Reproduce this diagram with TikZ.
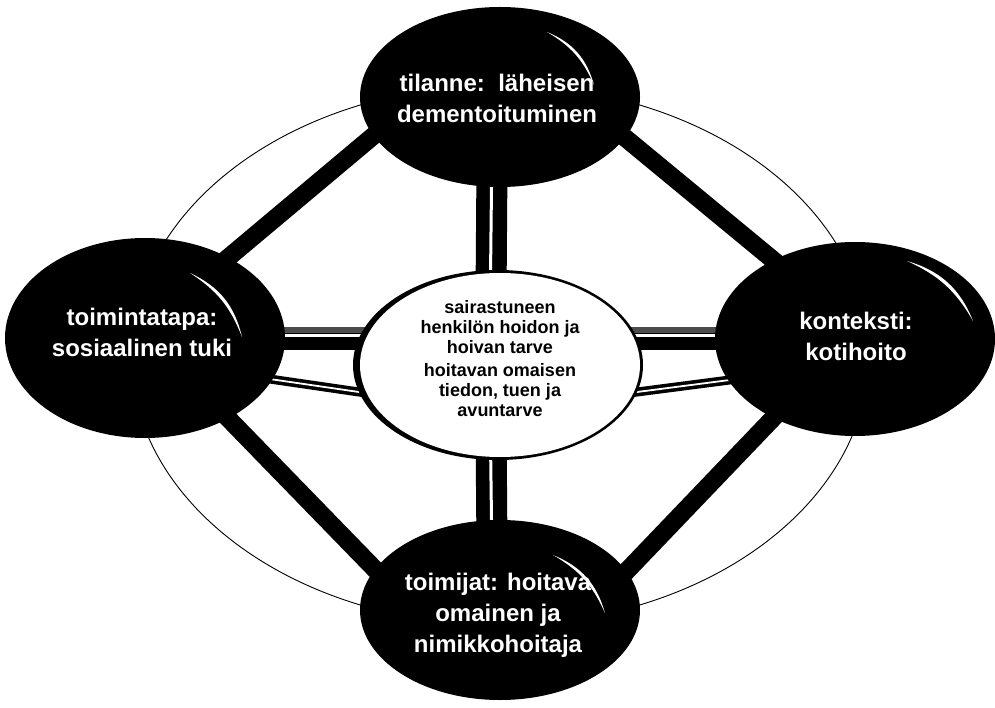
\documentclass[tikz,border=0pt]{standalone}
\usepackage{fontspec}
\setmainfont{Liberation Sans}
\usetikzlibrary{shapes.geometric}
\pgfdeclarelayer{paper}
\pgfdeclarelayer{back}
\pgfsetlayers{paper,back,main}

\tikzset{
  blob/.style={ellipse, fill=black, inner sep=0pt, outer sep=0pt,
    minimum width=280pt, minimum height=180pt},
  hub/.style={ellipse, fill=black, inner sep=0pt, outer sep=0pt,
    minimum width=290pt, minimum height=190pt},
  hubface/.style={ellipse, fill=white, inner sep=0pt, outer sep=0pt,
    minimum width=280pt, minimum height=184pt},
  ring/.style={ellipse, draw=black, line width=0.9pt, inner sep=0pt,
    minimum width=738pt, minimum height=540pt},
  wtxt/.style={text=white, font=\bfseries\fontsize{24}{31}\selectfont,
    align=center, inner sep=0pt},
  ctxt/.style={text=black, font=\bfseries\fontsize{18}{20}\selectfont,
    align=center, inner sep=0pt},
  spoke/.style={line width=18pt, black, shorten <=-25pt, shorten >=-25pt},
  vbar/.style={line width=31pt, black},
  hbar/.style={line width=23pt, black},
  slit/.style={line width=3pt, white},
  twin/.style={draw=black, line width=3.6pt, double=white,
    double distance=1.8pt, shorten <=-8pt, shorten >=-4pt},
}

% white highlight crescent on a dark ellipse
\newcommand\glint[5]{%
  \fill[white] ([shift={(#2,#3)}]#1.center)
    to[bend left=26] ([shift={(#4,#5)}]#1.center)
    to[bend right=18] ([shift={(#2,#3)}]#1.center) -- cycle;}

\begin{document}
\begin{tikzpicture}[x=1pt,y=-1pt]
\useasboundingbox (0,0) rectangle (995,708);
\begin{pgfonlayer}{paper}
  \fill[white] (0,0) rectangle (995,708);
\end{pgfonlayer}

% outer nodes and hub
\node[blob] (t) at (500,97) {};
\node[blob, minimum height=200pt] (l) at (145,338) {};
\node[blob, minimum height=194pt] (r) at (855,339) {};
\node[blob] (b) at (500,610) {};
\node[hub] (c) at (498,365) {};
\node[hubface] (cf) at ([shift={(2,0)}]c.center) {};

\begin{pgfonlayer}{back}
  \node[ring] (ring) at (500,355) {};
  % diagonal spokes
  \draw[spoke] (l.44) -- (t.197.5);
  \draw[spoke] (r.136) -- (t.342.5);
  \draw[spoke] (l.-44) -- (b.162.5);
  \draw[spoke] (r.224) -- (b.17.5);
  % vertical double bars
  \draw[vbar] ([shift={(-7.5,0)}]t.center) -- ([shift={(-7.5,0)}]c.center);
  \draw[slit] ([shift={(-8.5,0)}]t.south) -- ([shift={(-8.5,0)}]c.center);
  \draw[vbar] ([shift={(-7.5,0)}]c.center) -- ([shift={(-7.5,0)}]b.center);
  \draw[slit] ([shift={(-8.5,0)}]c.center) -- ([shift={(-8.5,0)}]b.north);
  % horizontal bars
  \draw[hbar] ([shift={(0,0.5)}]l.center) -- ([shift={(0,0.5)}]l.center -| c.center);
  \draw[line width=6pt, black!70] ([shift={(0,-8.5)}]l.center) -- ([shift={(0,-8.5)}]l.center -| c.center);
  \draw[slit] ([shift={(0,-3)}]l.center) -- ([shift={(0,-3)}]l.center -| c.center);
  \draw[hbar] ([shift={(0,0.5)}]l.center -| r.center) -- ([shift={(0,0.5)}]l.center -| c.center);
  \draw[line width=6pt, black!70] ([shift={(0,-8.5)}]l.center -| r.center) -- ([shift={(0,-8.5)}]l.center -| c.center);
  \draw[slit] ([shift={(0,-3)}]l.center -| r.center) -- ([shift={(0,-3)}]l.center -| c.center);
  % thin double links
  \draw[twin] (l.-18) -- (c.191);
  \draw[twin] (r.198) -- (c.349);
\end{pgfonlayer}

% labels
\node[wtxt] (tt) at (497,98) {tilanne:\ \ läheisen\\dementoituminen};
\node[wtxt] (lt) at (142,332) {toimintatapa:\\sosiaalinen tuki};
\node[wtxt] (rt) at (856,336) {konteksti:\\kotihoito};
\node[wtxt] (bt) at (498,615) {toimijat: hoitava\\omainen ja\\nimikkohoitaja};
\node[ctxt] (ct) at (500,359) {sairastuneen\\henkilön hoidon ja\\hoivan tarve\\[3pt]hoitavan omaisen\\tiedon, tuen ja\\avuntarve};

% highlights
\glint{t}{47}{-65}{94}{-12}
\glint{l}{45}{-65}{97}{-1}
\glint{r}{52}{-78}{118}{-18}
\glint{b}{53}{-55}{105}{3}
\end{tikzpicture}
\end{document}
